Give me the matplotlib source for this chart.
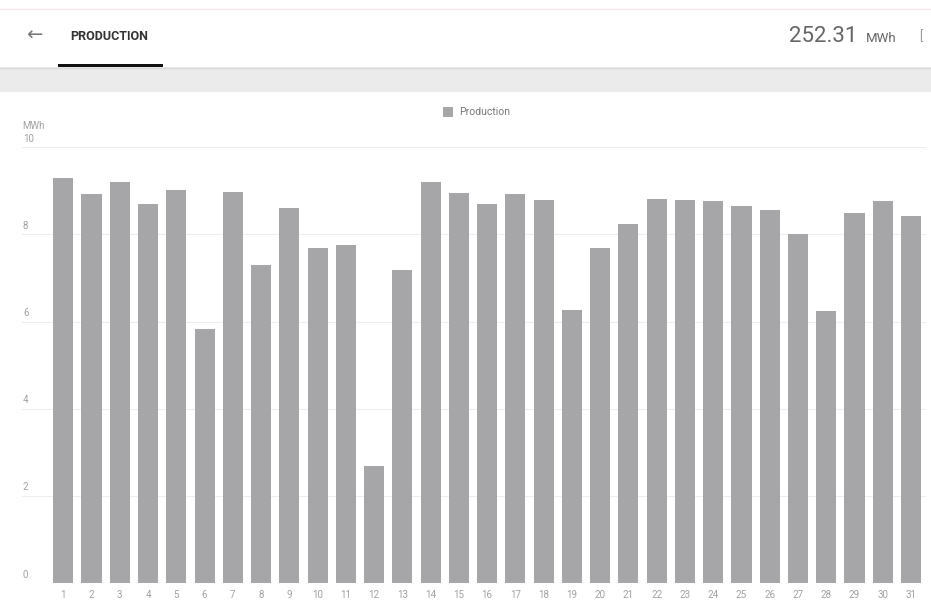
import matplotlib.pyplot as plt
from matplotlib.patches import Rectangle
from matplotlib.lines import Line2D
import matplotlib.transforms as mtransforms

plt.rcParams['font.family'] = ['Roboto', 'DejaVu Sans']

# data
days = list(range(1, 32))
production = [9.29, 8.92, 9.20, 8.69, 9.01, 5.84, 8.97, 7.30, 8.61, 7.70,
              7.75, 2.69, 7.18, 9.21, 8.94, 8.71, 8.93, 8.80, 6.26, 7.70,
              8.23, 8.82, 8.78, 8.77, 8.65, 8.55, 8.02, 6.24, 8.49, 8.77,
              8.43]
y_ticks = [0, 2, 4, 6, 8, 10]
total_label = "252.31"
unit = "MWh"

W, H = 931, 605
fig = plt.figure(figsize=(W / 100, H / 100), dpi=100)

# header: faint top line, tab, total, grey band
fig.add_artist(Line2D([0, 1], [1 - 9 / H, 1 - 9 / H], color="#fbe3e8", lw=0.8))
fig.text(34 / W, 1 - 35 / H, "\u2190", color="#777777", fontsize=14,
         ha="center", va="center", family=["DejaVu Sans"])
fig.text(70 / W, 1 - 36 / H, "PRODUCTION", color="#333333", fontsize=9,
         weight="bold", ha="left", va="center")
fig.add_artist(Rectangle((58 / W, 1 - 67 / H), 105 / W, 3 / H,
                         color="#111111", lw=0))
fig.add_artist(Rectangle((0, 1 - 92 / H), 1, 25 / H, color="#ebebeb", lw=0))
fig.add_artist(Line2D([0, 1], [1 - 67.5 / H, 1 - 67.5 / H], color="#d8d8d8", lw=1))
fig.text(857 / W, 1 - 37 / H, total_label, color="#666666", fontsize=16,
         ha="right", va="center")
fig.text(866 / W, 1 - 38 / H, unit, color="#666666", fontsize=9.5,
         ha="left", va="center")
fig.text(919 / W, 1 - 37 / H, "[", color="#999999", fontsize=9,
         ha="left", va="center")

# chart
ax = fig.add_axes([22 / W, 22 / H, 904 / W, 435.7 / H])
ax.bar(days, production, width=0.71, color="#a6a6a8", zorder=2)
ax.set_xlim(-0.46, 31.53)
ax.set_ylim(0, 10)
ax.set_yticks(y_ticks)
ax.yaxis.grid(True, color="#ededed", lw=0.8, zorder=0)
ax.tick_params(axis="y", length=0, labelleft=False)
ax.set_xticks(days)
ax.set_xticklabels([str(d) for d in days])
ax.tick_params(axis="x", length=0, pad=5, labelsize=7, labelcolor="#a0a0a0")
for s in ax.spines.values():
    s.set_visible(False)

trans = mtransforms.blended_transform_factory(ax.transAxes, ax.transData)
for t in y_ticks:
    ax.text(0.001, t + 0.08, str(t), transform=trans, ha="left", va="bottom",
            fontsize=7, color="#a0a0a0")
ax.text(0.0, 1.048, unit, transform=ax.transAxes, ha="left", va="center",
        fontsize=7, color="#a0a0a0")

# legend
fig.add_artist(Rectangle((443 / W, 1 - 117 / H), 9.5 / W, 9.5 / H,
                         color="#a6a6a8", lw=0))
fig.text(459 / W, 1 - 112 / H, "Production", color="#777777", fontsize=7.5,
         ha="left", va="center")

fig.savefig("out.png", dpi=100, facecolor="white")
